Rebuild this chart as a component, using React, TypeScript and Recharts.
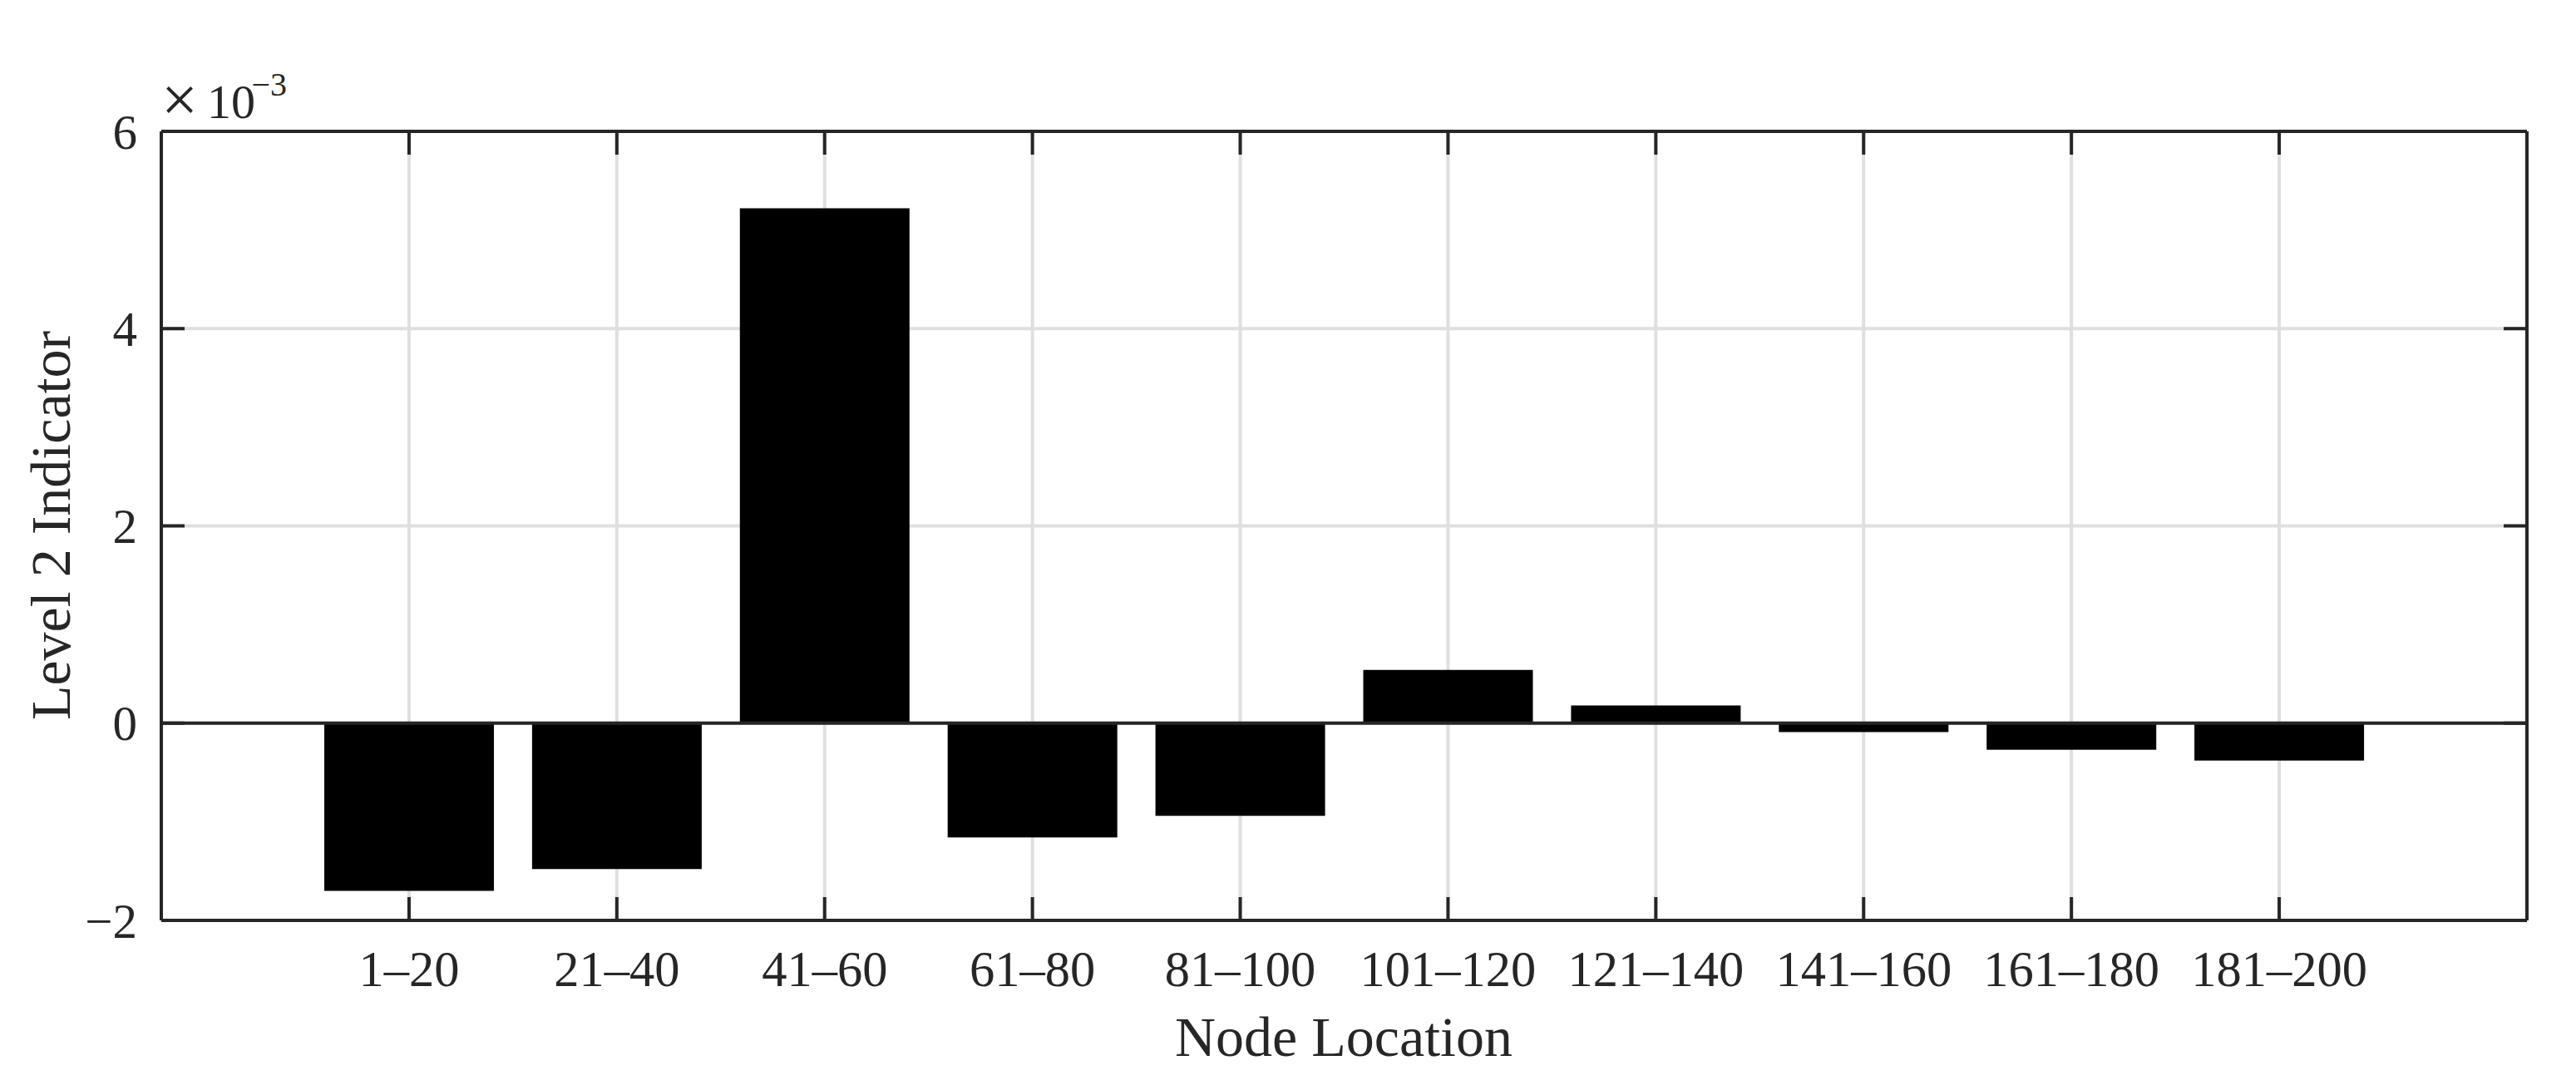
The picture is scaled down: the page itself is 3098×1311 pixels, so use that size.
import React from "react";
import {
  BarChart,
  Bar,
  XAxis,
  YAxis,
  CartesianGrid,
  ReferenceLine,
} from "recharts";

const categories = [
  "1–20",
  "21–40",
  "41–60",
  "61–80",
  "81–100",
  "101–120",
  "121–140",
  "141–160",
  "161–180",
  "181–200",
];

// Level 2 Indicator values (actual values, axis shows ×10^-3)
const indicatorValues = [
  -0.0017, -0.00148, 0.00522, -0.00116, -0.00094, 0.00054, 0.00018, -0.00009,
  -0.00027, -0.00038,
];

const yTicks = [-0.002, 0, 0.002, 0.004, 0.006];

const data = categories.map((label, i) => ({ label, value: indicatorValues[i] }));

const FONT = "'Liberation Serif', 'Times New Roman', serif";
const INK = "#262626";
const GRID = "#dfdfdf";
const TICK_LEN = 28;
const X_MARGIN = 36;
const Y_MARGIN = 29;

const fmtY = (v: number) => {
  const n = Math.round(v * 1000);
  return n < 0 ? "\u2212" + Math.abs(n) : String(n);
};

const BottomTick = (props: any) => {
  const { x, y, payload } = props;
  const axisY = y - X_MARGIN;
  return (
    <g>
      <line x1={x} x2={x} y1={axisY} y2={axisY - TICK_LEN} stroke={INK} strokeWidth={4} />
      <text
        x={x}
        y={y}
        dy="0.71em"
        textAnchor="middle"
        fill={INK}
        fontSize={60.5}
        fontFamily={FONT}
      >
        {payload.value}
      </text>
    </g>
  );
};

const TopTick = (props: any) => {
  const { x, y } = props;
  return <line x1={x} x2={x} y1={y} y2={y + TICK_LEN} stroke={INK} strokeWidth={4} />;
};

const LeftTick = (props: any) => {
  const { x, y, payload } = props;
  const axisX = x + Y_MARGIN;
  return (
    <g>
      <line x1={axisX} x2={axisX + TICK_LEN} y1={y} y2={y} stroke={INK} strokeWidth={4} />
      <text
        x={x}
        y={y}
        dy="0.35em"
        textAnchor="end"
        fill={INK}
        fontSize={59}
        fontFamily={FONT}
      >
        {fmtY(payload.value)}
      </text>
    </g>
  );
};

const RightTick = (props: any) => {
  const { x, y } = props;
  return <line x1={x} x2={x - TICK_LEN} y1={y} y2={y} stroke={INK} strokeWidth={4} />;
};

export default function App() {
  return (
    <div style={{ position: "relative", width: 3082, height: 1295 }}>
      <BarChart
        width={3082}
        height={1295}
        data={data}
        margin={{ top: 149, right: 50, left: 56, bottom: 96 }}
        barSize={204}
      >
        <CartesianGrid stroke={GRID} strokeWidth={4} />
        <XAxis
          dataKey="label"
          xAxisId={0}
          height={100}
          padding={{ left: 173, right: 173 }}
          axisLine={{ stroke: INK, strokeWidth: 4 }}
          tickLine={false}
          tickSize={0}
          tickMargin={X_MARGIN}
          interval={0}
          tick={<BottomTick />}
        />
        <XAxis
          dataKey="label"
          xAxisId="top"
          orientation="top"
          height={1}
          padding={{ left: 173, right: 173 }}
          axisLine={{ stroke: INK, strokeWidth: 4 }}
          tickLine={false}
          tickSize={0}
          tickMargin={0}
          interval={0}
          tick={<TopTick />}
        />
        <YAxis
          yAxisId={0}
          type="number"
          width={130}
          domain={[-0.002, 0.006]}
          ticks={yTicks}
          allowDataOverflow
          axisLine={{ stroke: INK, strokeWidth: 4 }}
          tickLine={false}
          tickSize={0}
          tickMargin={Y_MARGIN}
          tick={<LeftTick />}
        />
        <YAxis
          yAxisId="right"
          orientation="right"
          type="number"
          width={1}
          domain={[-0.002, 0.006]}
          ticks={yTicks}
          allowDataOverflow
          axisLine={{ stroke: INK, strokeWidth: 4 }}
          tickLine={false}
          tickSize={0}
          tickMargin={0}
          tick={<RightTick />}
        />
        <ReferenceLine y={0} stroke={INK} strokeWidth={4} />
        <Bar dataKey="value" fill="#000000" isAnimationActive={false} />
      </BarChart>
      <svg
        width={3082}
        height={1295}
        style={{ position: "absolute", left: 0, top: 0, pointerEvents: "none" }}
      >
        <text x={186} y={138} fill={INK} fontFamily={FONT} fontSize={78}>
          ×
        </text>
        <text x={241} y={134} fill={INK} fontFamily={FONT} fontSize={58}>
          10
        </text>
        <text x={337} y={107} fill={INK} fontFamily={FONT} fontSize={40} textAnchor="end">
          −3
        </text>
        <text
          x={1608}
          y={1262}
          fill={INK}
          fontFamily={FONT}
          fontSize={68}
          textAnchor="middle"
        >
          Node Location
        </text>
        <text
          transform="translate(76,624) rotate(-90)"
          fill={INK}
          fontFamily={FONT}
          fontSize={68}
          textAnchor="middle"
        >
          Level 2 Indicator
        </text>
      </svg>
    </div>
  );
}
